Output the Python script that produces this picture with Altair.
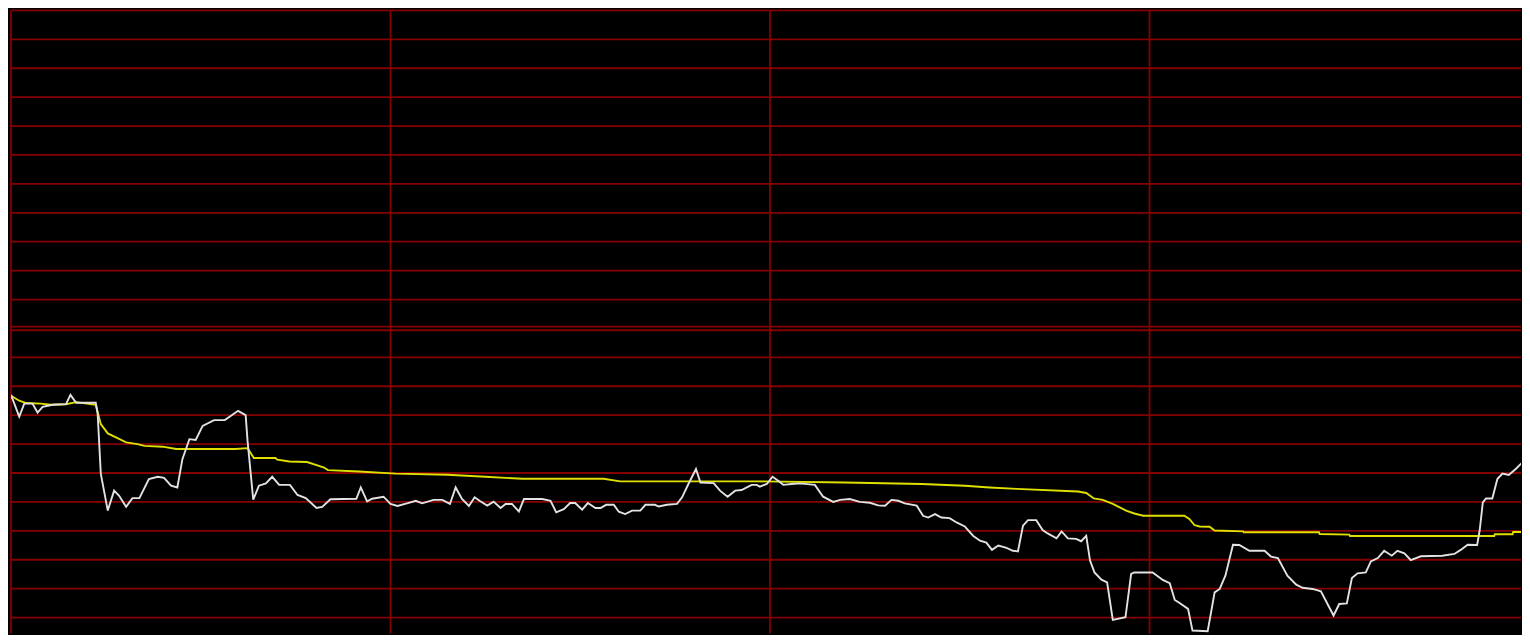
import altair as alt
import pandas as pd

# Intraday price line (minute index from open, change in grid units)
price_min = [0, 1.3, 2.1, 3.4, 4.2, 5.0, 6.6, 8.7, 9.4, 10.3, 13.4, 13.7, 14.2, 15.3, 16.3, 17.1, 18.2, 19.2, 20.3, 21.8,
             23.2, 24.2, 25.3, 26.3, 27.1, 28.2, 29.2, 30.3, 32.1, 33.8, 34.5, 35.9, 37.1, 37.4, 38.3, 39.2, 40.3, 41.3, 42.4, 44.1,
             45.3, 46.6, 48.3, 49.2, 50.5, 54.6, 55.3, 56.3, 57.1, 58.9, 60.0, 61.1, 62.6, 64.0, 65.0, 66.8, 68.2, 69.4, 70.3, 71.3,
             72.4, 73.3, 74.2, 75.3, 76.3, 77.4, 78.2, 79.2, 80.3, 81.1, 84.0, 85.3, 86.2, 87.4, 88.4, 89.2, 90.3, 91.2, 92.4, 93.2,
             94.1, 95.3, 96.1, 97.1, 98.2, 99.5, 100.3, 101.8, 102.4, 103.7, 105.3, 106.1, 107.1, 108.3, 109.0, 111.1, 112.1, 113.3, 114.5, 115.5,
             117.1, 117.9, 118.4, 119.5, 120.4, 121.3, 122.1, 123.4, 124.7, 127.1, 128.4, 130.0, 131.1, 132.6, 134.2, 135.8, 137.1, 138.2, 139.2, 140.3,
             141.3, 143.2, 144.2, 145.0, 146.1, 147.1, 148.4, 149.5, 150.8, 152.1, 153.2, 154.2, 155.1, 156.1, 157.4, 158.4, 159.2, 160.0, 160.8, 162.1,
             163.1, 163.9, 165.3, 166.1, 167.1, 168.4, 169.2, 170.0, 170.6, 171.3, 172.4, 173.3, 174.2, 176.2, 177.1, 177.6, 180.5, 182.1, 183.2, 184.0,
             184.7, 186.1, 186.8, 189.2, 190.3, 191.1, 192.0, 193.2, 194.2, 195.8, 198.2, 199.2, 200.3, 201.8, 203.2, 204.2, 205.8, 207.1, 209.1, 210.0,
             211.2, 212.0, 212.9, 214.2, 215.0, 216.1, 217.1, 218.3, 219.2, 220.3, 221.3, 222.9, 226.3, 228.2, 229.2, 230.3, 231.8, 232.2, 232.7, 233.2,
             234.2, 235.0, 235.8, 236.8, 237.9, 239.1, 240.0]
price_val = [-2.30, -3.05, -2.60, -2.60, -2.91, -2.71, -2.64, -2.62, -2.30, -2.57, -2.57, -2.95, -5.03, -6.30, -5.61, -5.79, -6.17, -5.87, -5.87, -5.21,
             -5.13, -5.17, -5.44, -5.50, -4.52, -3.83, -3.86, -3.37, -3.17, -3.17, -3.06, -2.85, -3.00, -3.89, -5.92, -5.44, -5.36, -5.13, -5.41, -5.41,
             -5.76, -5.87, -6.21, -6.17, -5.91, -5.89, -5.50, -5.98, -5.89, -5.82, -6.07, -6.14, -6.05, -5.96, -6.05, -5.93, -5.93, -6.07, -5.50, -5.90,
             -6.14, -5.84, -5.98, -6.13, -5.99, -6.21, -6.07, -6.07, -6.33, -5.90, -5.90, -5.96, -6.36, -6.25, -6.04, -6.04, -6.27, -6.04, -6.21, -6.21,
             -6.10, -6.10, -6.34, -6.42, -6.30, -6.30, -6.10, -6.10, -6.16, -6.10, -6.07, -5.84, -5.38, -4.86, -5.33, -5.35, -5.61, -5.82, -5.61, -5.59,
             -5.41, -5.41, -5.47, -5.38, -5.13, -5.27, -5.41, -5.38, -5.36, -5.41, -5.82, -6.00, -5.93, -5.90, -6.00, -6.03, -6.12, -6.13, -5.93, -5.96,
             -6.05, -6.13, -6.48, -6.54, -6.42, -6.54, -6.56, -6.71, -6.85, -7.17, -7.34, -7.41, -7.66, -7.51, -7.59, -7.69, -7.71, -6.82, -6.63, -6.63,
             -6.97, -7.09, -7.26, -7.02, -7.26, -7.28, -7.36, -7.17, -8.03, -8.44, -8.69, -8.78, -10.08, -9.99, -8.49, -8.44, -8.44, -8.70, -8.81, -9.39,
             -9.49, -9.70, -10.45, -10.47, -9.13, -9.01, -8.55, -7.48, -7.49, -7.69, -7.69, -7.89, -7.94, -8.55, -8.86, -8.97, -9.01, -9.09, -9.93, -9.53,
             -9.51, -8.63, -8.47, -8.44, -8.06, -7.94, -7.69, -7.86, -7.69, -7.78, -8.01, -7.88, -7.86, -7.80, -7.66, -7.48, -7.49, -6.99, -6.02, -5.88,
             -5.88, -5.21, -5.02, -5.07, -4.86, -4.60, -4.83]

# Average price line
avg_min = [0, 1.3, 2.4, 4.7, 6.3, 8.7, 10.3, 13.4, 14.2, 15.3, 16.6, 18.2, 20.0, 21.1, 24.0, 26.1, 35.5, 37.4, 38.4, 41.8,
           42.1, 44.0, 46.8, 48.2, 49.5, 50.1, 55.0, 60.8, 69.0, 75.0, 80.8, 93.7, 96.3, 118.4, 131.8, 144.0, 150.8, 154.7, 159.0, 168.7,
           170.0, 171.2, 172.6, 174.2, 176.3, 177.6, 179.0, 185.5, 186.3, 187.1, 187.9, 189.5, 190.3, 194.8, 194.9, 206.8, 206.9, 211.6, 211.7, 234.5,
           234.6, 237.4, 237.5, 240.0]
avg_val = [-2.33, -2.50, -2.58, -2.60, -2.64, -2.62, -2.55, -2.64, -3.31, -3.63, -3.77, -3.94, -4.00, -4.06, -4.09, -4.17, -4.17, -4.14, -4.48, -4.48,
           -4.54, -4.60, -4.62, -4.72, -4.81, -4.90, -4.95, -5.02, -5.06, -5.13, -5.20, -5.20, -5.29, -5.29, -5.33, -5.38, -5.44, -5.50, -5.55, -5.64,
           -5.69, -5.88, -5.93, -6.07, -6.30, -6.40, -6.48, -6.48, -6.59, -6.80, -6.85, -6.86, -6.99, -7.02, -7.05, -7.05, -7.11, -7.13, -7.18, -7.18,
           -7.12, -7.12, -7.04, -7.04]

h_grid = [11, 10, 9, 8, 7, 6, 5, 4, 3, 2, 1, -1, -2, -3, -4, -5, -6, -7, -8, -9, -10]
v_grid = [0, 60, 120, 180]

# visible window of the session (the page must fit inside the browser window)
W, H = 1512, 624
X_MAX = 240 * 1512 / 1520.0
Y_MIN = 11 - 624 / 28.95
GRID = "#850000"
xs = alt.Scale(domain=[0, X_MAX], nice=False, zero=False)
ys = alt.Scale(domain=[Y_MIN, 11], nice=False, zero=False)

hg = alt.Chart(pd.DataFrame({"v": h_grid})).mark_rule(color=GRID, strokeWidth=1.8).encode(
    y=alt.Y("v:Q", scale=ys, axis=None))
zero_df = pd.DataFrame({"v": [0]})
z1 = alt.Chart(zero_df).mark_rule(color=GRID, strokeWidth=1.8, yOffset=-1.8).encode(
    y=alt.Y("v:Q", scale=ys, axis=None))
z2 = alt.Chart(zero_df).mark_rule(color=GRID, strokeWidth=1.8, yOffset=1.8).encode(
    y=alt.Y("v:Q", scale=ys, axis=None))
vg = alt.Chart(pd.DataFrame({"m": v_grid})).mark_rule(color=GRID, strokeWidth=1.8).encode(
    x=alt.X("m:Q", scale=xs, axis=None))

avg = alt.Chart(pd.DataFrame({"m": avg_min, "v": avg_val})).mark_line(
    color="#e0e000", strokeWidth=1.9, clip=True).encode(
    x=alt.X("m:Q", scale=xs, axis=None), y=alt.Y("v:Q", scale=ys, axis=None))
price = alt.Chart(pd.DataFrame({"m": price_min, "v": price_val})).mark_line(
    color="#e2e2e2", strokeWidth=1.9, clip=True).encode(
    x=alt.X("m:Q", scale=xs, axis=None), y=alt.Y("v:Q", scale=ys, axis=None))

chart = alt.layer(hg, z1, z2, vg, avg, price).properties(
    width=W, height=H,
    padding={"left": 2, "top": 1, "right": 0, "bottom": 0},
    background="#000000",
).configure_view(stroke=None)

chart.save("out.html", embed_options={"renderer": "svg", "actions": False})
